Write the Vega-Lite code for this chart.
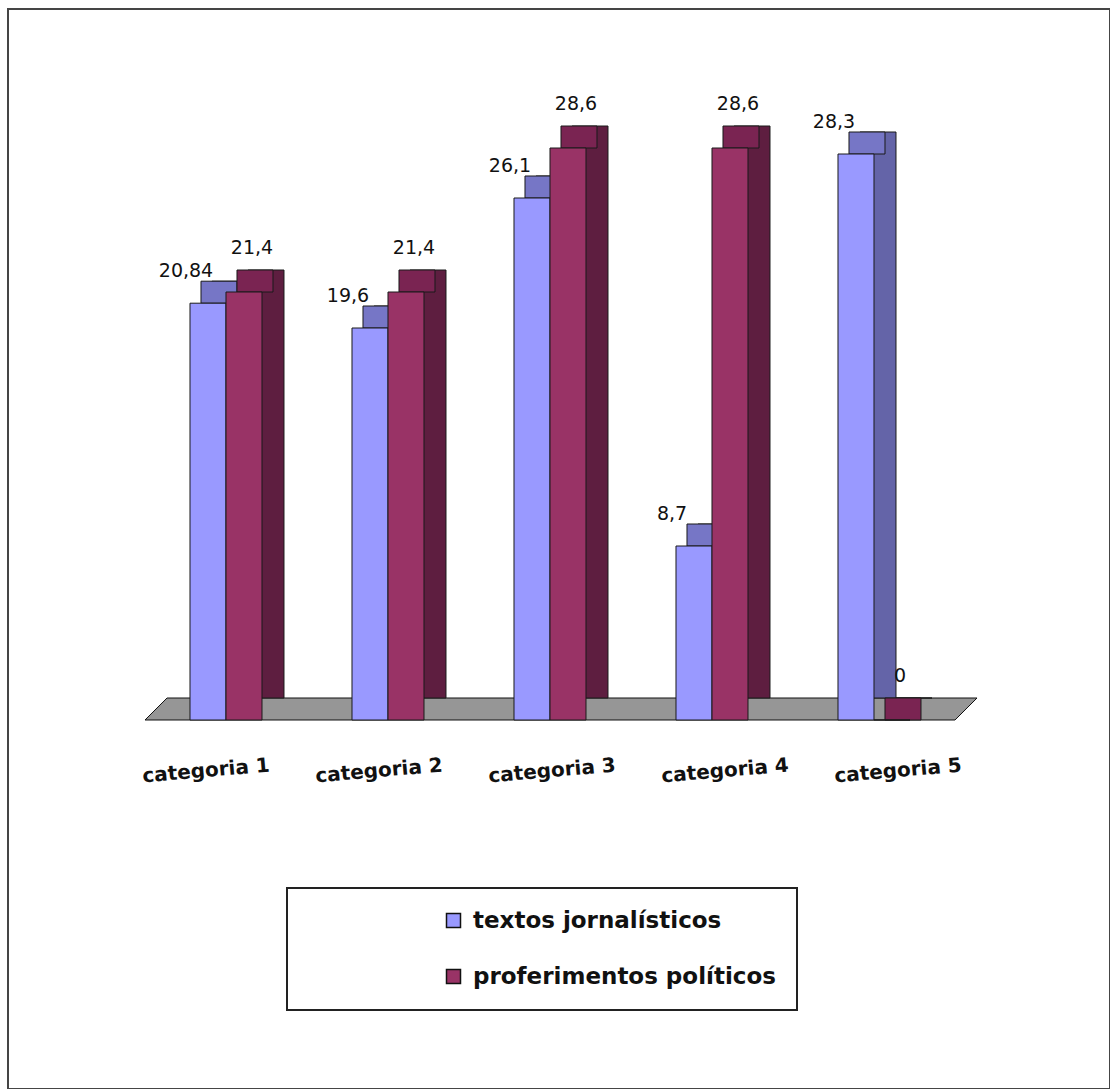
{
  "$schema": "https://vega.github.io/schema/vega-lite/v6.json",
  "width": 1110,
  "height": 1089,
  "autosize": {"type": "fit", "contains": "padding"},
  "padding": {"left": 8, "top": 9, "right": 0, "bottom": 0},
  "background": "white",
  "config": {
    "view": {"stroke": "#454545", "strokeWidth": 2},
    "locale": {"number": {"decimal": ",", "thousands": ".", "grouping": [3], "currency": ["", ""]}},
    "font": "DejaVu Sans"
  },
  "datasets": {
    "bars": [
      {"categoria": "categoria 1", "serie": "textos jornalísticos", "valor": 20.84},
      {"categoria": "categoria 1", "serie": "proferimentos políticos", "valor": 21.4},
      {"categoria": "categoria 2", "serie": "textos jornalísticos", "valor": 19.6},
      {"categoria": "categoria 2", "serie": "proferimentos políticos", "valor": 21.4},
      {"categoria": "categoria 3", "serie": "textos jornalísticos", "valor": 26.1},
      {"categoria": "categoria 3", "serie": "proferimentos políticos", "valor": 28.6},
      {"categoria": "categoria 4", "serie": "textos jornalísticos", "valor": 8.7},
      {"categoria": "categoria 4", "serie": "proferimentos políticos", "valor": 28.6},
      {"categoria": "categoria 5", "serie": "textos jornalísticos", "valor": 28.3},
      {"categoria": "categoria 5", "serie": "proferimentos políticos", "valor": 0}
    ],
    "floor": [
      {"fx": 0.5, "fx2": 5.5, "fy": 0},
      {"fx": 0.636, "fx2": 5.636, "fy": 1.1}
    ]
  },
  "resolve": {"scale": {"x": "independent"}},
  "layer": [
    {
      "data": {"name": "floor"},
      "mark": {"type": "area", "orient": "horizontal", "fill": "#969696", "stroke": "#111111", "strokeWidth": 1},
      "encoding": {
        "y": {"field": "fy", "type": "quantitative", "scale": {"domain": [-18.45, 35.55], "nice": false, "zero": false}, "axis": null},
        "x": {"field": "fx", "type": "quantitative", "scale": {"domain": [-0.3457, 6.4568], "nice": false, "zero": false}, "axis": null},
        "x2": {"field": "fx2"}
      }
    },
    {
      "data": {"name": "bars"},
      "resolve": {"scale": {"xOffset": "independent"}},
      "encoding": {
        "x": {"field": "categoria", "type": "nominal", "axis": null, "sort": null,
              "scale": {"paddingInner": 0.19753, "paddingOuter": 1, "align": 0.5617}},
        "y": {"field": "valor", "type": "quantitative", "axis": null}
      },
      "layer": [
        {
          "mark": {"type": "bar", "yOffset": -22, "stroke": "#1a1a1a", "strokeWidth": 1},
          "encoding": {
            "xOffset": {"field": "serie", "type": "nominal", "scale": {"domain": ["textos jornalísticos", "proferimentos políticos"], "range": [22, 94], "paddingInner": 0, "paddingOuter": 0}},
            "color": {"condition": {"test": "datum.serie === 'textos jornalísticos'", "value": "#6464A8"}, "value": "#5E1E40"}
          }
        },
        {
          "mark": {"type": "tick", "thickness": 22, "size": 36, "yOffset": -11, "stroke": "#1a1a1a", "strokeWidth": 1, "opacity": 1},
          "encoding": {
            "xOffset": {"field": "serie", "type": "nominal", "scale": {"domain": ["textos jornalísticos", "proferimentos políticos"], "range": [11, 83], "paddingInner": 0, "paddingOuter": 0}},
            "color": {"condition": {"test": "datum.serie === 'textos jornalísticos'", "value": "#7676C6"}, "value": "#7A2452"}
          }
        },
        {
          "mark": {"type": "bar", "stroke": "#1a1a1a", "strokeWidth": 1, "opacity": 1},
          "encoding": {
            "xOffset": {"field": "serie", "type": "nominal", "scale": {"domain": ["textos jornalísticos", "proferimentos políticos"], "range": [0, 72], "paddingInner": 0, "paddingOuter": 0}},
            "color": {
              "field": "serie", "type": "nominal",
              "scale": {"domain": ["textos jornalísticos", "proferimentos políticos"], "range": ["#9999FF", "#993366"]},
              "legend": {
                "orient": "none", "legendX": 279, "legendY": 879, "title": null,
                "strokeColor": "#222222", "fillColor": "white", "padding": 21,
                "symbolType": "square", "symbolSize": 196, "symbolStrokeColor": "#111111", "symbolStrokeWidth": 1.5,
                "symbolOffset": 134, "labelFont": "DejaVu Sans", "labelFontSize": 23, "labelFontWeight": "bold",
                "labelColor": "#111111", "rowPadding": 32, "labelOffset": 8, "labelLimit": 500, "symbolOpacity": 1,
                "encode": {"legend": {"update": {"strokeWidth": {"value": 2}}}}
              }
            }
          }
        },
        {
          "transform": [{"filter": "datum.serie === 'textos jornalísticos'"}],
          "mark": {"type": "text", "dx": -22, "dy": -32, "baseline": "middle", "fontSize": 19, "color": "#111111"},
          "encoding": {
            "xOffset": {"field": "serie", "type": "nominal", "scale": {"domain": ["textos jornalísticos", "proferimentos políticos"], "range": [0, 72]}},
            "text": {"field": "valor", "type": "quantitative", "format": ".4~r"}
          }
        },
        {
          "transform": [{"filter": "datum.serie === 'proferimentos políticos'"}],
          "mark": {"type": "text", "dx": 8, "dy": -44, "baseline": "middle", "fontSize": 19, "color": "#111111"},
          "encoding": {
            "xOffset": {"field": "serie", "type": "nominal", "scale": {"domain": ["textos jornalísticos", "proferimentos políticos"], "range": [0, 72]}},
            "text": {"field": "valor", "type": "quantitative", "format": ".4~r"}
          }
        }
      ]
    },
    {
      "data": {"name": "bars"},
      "transform": [{"filter": "datum.serie === 'textos jornalísticos'"}],
      "mark": {"type": "text", "angle": 355, "baseline": "middle", "fontSize": 20, "fontWeight": "bold", "color": "#111111"},
      "encoding": {
        "x": {"field": "categoria", "type": "nominal", "axis": null, "sort": null,
              "scale": {"type": "band", "paddingInner": 0.63, "paddingOuter": 1, "align": 0.48}},
        "y": {"datum": -2.55},
        "text": {"field": "categoria", "type": "nominal"}
      }
    }
  ]
}
